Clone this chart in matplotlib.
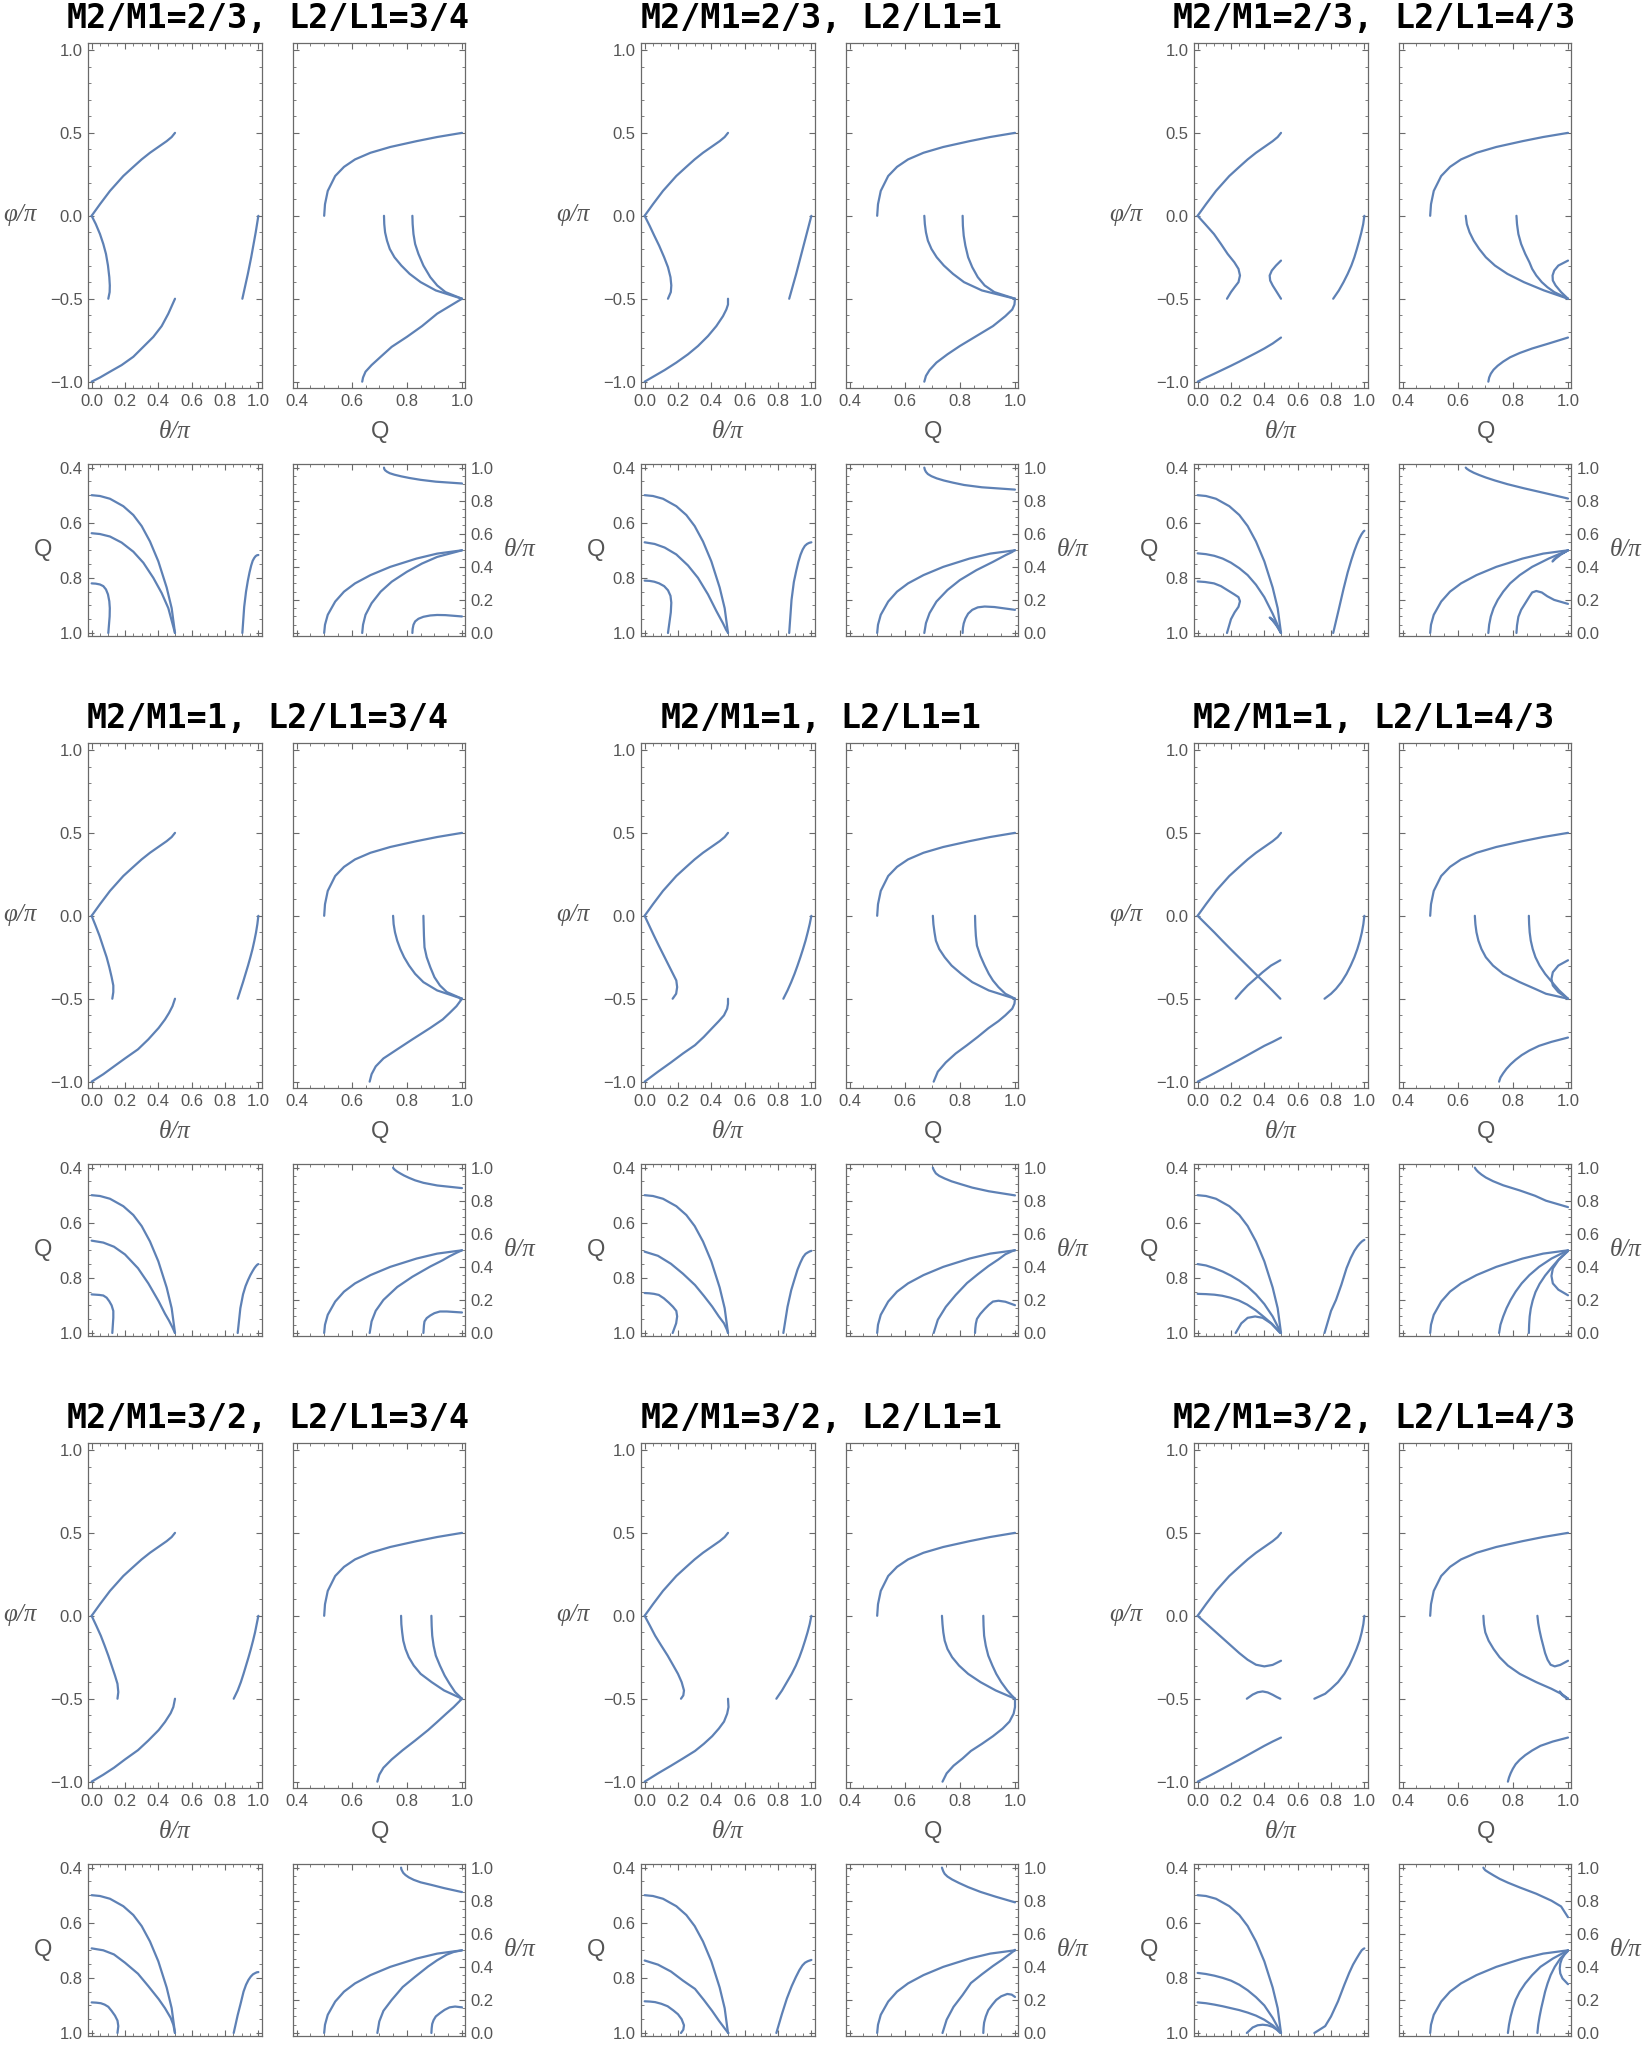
import matplotlib
matplotlib.use('Agg')
import matplotlib.pyplot as plt
from matplotlib.ticker import MultipleLocator, FuncFormatter

LINE = '#5E81B5'
FRAME = '#6a6a6a'
LABEL = '#555555'

mass_ratios = ['2/3', '1', '3/2']
length_ratios = ['3/4', '1', '4/3']

# ---- common branch (theta/pi, phi/pi, Q) ----
arcA_th = [0, 0.05, 0.11, 0.19, 0.25, 0.30, 0.35, 0.40, 0.45, 0.48, 0.5]
arcA_ph = [0, 0.07, 0.15, 0.24, 0.295, 0.34, 0.38, 0.415, 0.45, 0.475, 0.5]
arcA_q = [0.5, 0.503, 0.513, 0.54, 0.572, 0.612, 0.668, 0.74, 0.835, 0.91, 1.0]

PH11 = [0, -0.05, -0.1, -0.15, -0.2, -0.25, -0.3, -0.35, -0.4, -0.45, -0.5]
PH12 = [0, -0.05, -0.1, -0.15, -0.2, -0.25, -0.3, -0.35, -0.4, -0.44, -0.47, -0.5]
TH11 = [0, 0.05, 0.1, 0.15, 0.2, 0.25, 0.3, 0.35, 0.4, 0.45, 0.5]

# ---- M2/M1=2/3, L2/L1=3/4 ----
th_23_34 = [arcA_th,
            [0, 0.025, 0.05, 0.07, 0.086, 0.098, 0.106, 0.109, 0.108, 0.1],
            [0, 0.05, 0.11, 0.18, 0.25, 0.31, 0.37, 0.42, 0.46, 0.5],
            [1.0, 0.992, 0.984, 0.975, 0.966, 0.957, 0.947, 0.937, 0.926, 0.915, 0.904]]
ph_23_34 = [arcA_ph,
            [0, -0.05, -0.11, -0.17, -0.23, -0.30, -0.37, -0.42, -0.46, -0.5],
            [-1, -0.975, -0.94, -0.9, -0.85, -0.79, -0.73, -0.665, -0.59, -0.5],
            PH11]
q_23_34 = [arcA_q,
           [0.82, 0.821, 0.824, 0.83, 0.842, 0.86, 0.885, 0.91, 0.94, 1.0],
           [0.638, 0.641, 0.65, 0.672, 0.705, 0.745, 0.8, 0.855, 0.91, 1.0],
           [0.717, 0.718, 0.721, 0.728, 0.738, 0.755, 0.78, 0.81, 0.85, 0.905, 1.0]]

# ---- M2/M1=2/3, L2/L1=1 ----
th_23_1 = [arcA_th,
           [0, 0.03, 0.058, 0.087, 0.117, 0.14, 0.155, 0.16, 0.157, 0.14],
           [0, 0.06, 0.12, 0.19, 0.26, 0.32, 0.38, 0.43, 0.47, 0.49, 0.5, 0.5],
           [1.0, 0.987, 0.974, 0.961, 0.948, 0.935, 0.922, 0.909, 0.895, 0.881, 0.867]]
ph_23_1 = [arcA_ph,
           [0, -0.06, -0.12, -0.18, -0.25, -0.31, -0.37, -0.42, -0.46, -0.5],
           [-1, -0.965, -0.93, -0.885, -0.835, -0.785, -0.725, -0.665, -0.605, -0.565, -0.535, -0.5],
           PH11]
q_23_1 = [arcA_q,
          [0.81, 0.811, 0.814, 0.82, 0.83, 0.845, 0.865, 0.89, 0.925, 1.0],
          [0.671, 0.677, 0.69, 0.715, 0.755, 0.8, 0.86, 0.92, 0.965, 0.99, 0.998, 1.0],
          [0.671, 0.673, 0.677, 0.684, 0.697, 0.716, 0.742, 0.775, 0.815, 0.88, 1.0]]

# ---- M2/M1=2/3, L2/L1=4/3 ----
th_23_43 = [arcA_th,
            [0, 0.045, 0.098, 0.14, 0.18, 0.22, 0.245, 0.254, 0.245, 0.222, 0.2, 0.176],
            [0.5, 0.47, 0.445, 0.432, 0.435, 0.45, 0.475, 0.5],
            TH11,
            [1.0, 0.993, 0.982, 0.969, 0.955, 0.94, 0.922, 0.9, 0.875, 0.847, 0.813]]
ph_23_43 = [arcA_ph,
            [0, -0.05, -0.11, -0.17, -0.23, -0.28, -0.32, -0.36, -0.40, -0.43, -0.46, -0.5],
            [-0.27, -0.3, -0.33, -0.36, -0.39, -0.42, -0.46, -0.5],
            [-1, -0.975, -0.952, -0.928, -0.904, -0.879, -0.853, -0.827, -0.8, -0.77, -0.734],
            PH11]
q_23_43 = [arcA_q,
           [0.813, 0.815, 0.82, 0.83, 0.845, 0.86, 0.87, 0.885, 0.905, 0.925, 0.95, 1.0],
           [1.0, 0.965, 0.95, 0.944, 0.945, 0.955, 0.975, 1.0],
           [0.711, 0.714, 0.72, 0.73, 0.745, 0.765, 0.79, 0.825, 0.87, 0.93, 1.0],
           [0.629, 0.633, 0.643, 0.658, 0.678, 0.702, 0.735, 0.78, 0.84, 0.913, 1.0]]

# ---- M2/M1=1, L2/L1=3/4 ----
th_1_34 = [arcA_th,
           [0, 0.024, 0.047, 0.07, 0.09, 0.106, 0.12, 0.13, 0.13, 0.124],
           [0, 0.07, 0.134, 0.2, 0.278, 0.34, 0.402, 0.44, 0.464, 0.485, 0.5],
           [1.0, 0.994, 0.986, 0.976, 0.965, 0.952, 0.938, 0.923, 0.908, 0.892, 0.876]]
ph_1_34 = [arcA_ph,
           [0, -0.06, -0.12, -0.19, -0.25, -0.31, -0.37, -0.42, -0.46, -0.5],
           [-1, -0.955, -0.908, -0.86, -0.805, -0.745, -0.676, -0.625, -0.586, -0.545, -0.5],
           PH11]
q_1_34 = [arcA_q,
          [0.86, 0.861, 0.862, 0.864, 0.872, 0.885, 0.9, 0.92, 0.945, 1.0],
          [0.665, 0.672, 0.687, 0.715, 0.765, 0.82, 0.885, 0.93, 0.955, 0.98, 1.0],
          [0.75, 0.752, 0.757, 0.765, 0.776, 0.79, 0.808, 0.83, 0.86, 0.91, 1.0]]

# ---- M2/M1=1, L2/L1=1 ----
th_1_1 = [arcA_th,
          [0, 0.028, 0.056, 0.085, 0.115, 0.145, 0.17, 0.19, 0.195, 0.189, 0.168],
          [0, 0.08, 0.158, 0.23, 0.302, 0.355, 0.405, 0.445, 0.476, 0.495, 0.5, 0.5],
          [1.0, 0.99, 0.978, 0.965, 0.95, 0.934, 0.917, 0.899, 0.879, 0.857, 0.832]]
ph_1_1 = [arcA_ph,
          [0, -0.06, -0.12, -0.18, -0.24, -0.3, -0.35, -0.39, -0.43, -0.47, -0.5],
          [-1, -0.94, -0.884, -0.83, -0.78, -0.73, -0.677, -0.635, -0.6, -0.56, -0.53, -0.5],
          PH11]
q_1_1 = [arcA_q,
         [0.855, 0.856, 0.858, 0.862, 0.874, 0.89, 0.905, 0.92, 0.94, 0.965, 1.0],
         [0.705, 0.72, 0.749, 0.785, 0.826, 0.865, 0.904, 0.94, 0.965, 0.99, 0.998, 1.0],
         [0.702, 0.704, 0.708, 0.713, 0.725, 0.745, 0.77, 0.805, 0.845, 0.905, 1.0]]

# ---- M2/M1=1, L2/L1=4/3 ----
th_1_43 = [arcA_th,
           [0, 0.05, 0.1, 0.148, 0.197, 0.247, 0.297, 0.347, 0.398, 0.448, 0.496],
           [0.496, 0.44, 0.39, 0.345, 0.3, 0.262, 0.228],
           TH11,
           [1.0, 0.994, 0.985, 0.973, 0.958, 0.94, 0.918, 0.893, 0.862, 0.83, 0.8, 0.761]]
ph_1_43 = [arcA_ph,
           PH11,
           [-0.268, -0.3, -0.34, -0.38, -0.42, -0.46, -0.5],
           [-1, -0.975, -0.949, -0.922, -0.895, -0.868, -0.84, -0.812, -0.784, -0.76, -0.734],
           PH12]
q_1_43 = [arcA_q,
          [0.858, 0.859, 0.861, 0.865, 0.872, 0.882, 0.897, 0.917, 0.942, 0.968, 1.0],
          [1.0, 0.965, 0.945, 0.94, 0.945, 0.965, 1.0],
          [0.75, 0.755, 0.765, 0.777, 0.792, 0.81, 0.832, 0.86, 0.895, 0.94, 1.0],
          [0.662, 0.664, 0.668, 0.675, 0.686, 0.702, 0.728, 0.765, 0.825, 0.88, 0.92, 1.0]]

# ---- M2/M1=3/2, L2/L1=3/4 ----
th_32_34 = [arcA_th,
            [0, 0.028, 0.055, 0.078, 0.1, 0.12, 0.14, 0.155, 0.16, 0.155],
            [0, 0.07, 0.134, 0.2, 0.278, 0.34, 0.402, 0.44, 0.474, 0.49, 0.5],
            [1.0, 0.99, 0.98, 0.968, 0.955, 0.941, 0.926, 0.911, 0.895, 0.876, 0.852]]
ph_32_34 = [arcA_ph,
            [0, -0.06, -0.12, -0.18, -0.24, -0.3, -0.36, -0.41, -0.46, -0.5],
            [-1, -0.958, -0.916, -0.866, -0.81, -0.752, -0.689, -0.64, -0.587, -0.55, -0.5],
            PH11]
q_32_34 = [arcA_q,
           [0.889, 0.89, 0.892, 0.897, 0.905, 0.92, 0.937, 0.955, 0.975, 1.0],
           [0.693, 0.7, 0.715, 0.745, 0.785, 0.83, 0.877, 0.91, 0.945, 0.97, 1.0],
           [0.779, 0.78, 0.783, 0.787, 0.795, 0.807, 0.825, 0.85, 0.89, 0.935, 1.0]]

# ---- M2/M1=3/2, L2/L1=1 ----
th_32_1 = [arcA_th,
           [0, 0.032, 0.063, 0.1, 0.138, 0.172, 0.2, 0.222, 0.236, 0.232, 0.218],
           [0, 0.08, 0.158, 0.23, 0.302, 0.355, 0.405, 0.445, 0.476, 0.495, 0.503, 0.5],
           [1.0, 0.99, 0.977, 0.962, 0.946, 0.928, 0.907, 0.882, 0.853, 0.824, 0.79]]
ph_32_1 = [arcA_ph,
           [0, -0.06, -0.12, -0.18, -0.24, -0.3, -0.35, -0.4, -0.45, -0.48, -0.5],
           [-1, -0.95, -0.904, -0.86, -0.815, -0.772, -0.726, -0.68, -0.638, -0.59, -0.55, -0.5],
           PH11]
q_32_1 = [arcA_q,
          [0.885, 0.886, 0.888, 0.894, 0.903, 0.918, 0.932, 0.95, 0.972, 0.988, 1.0],
          [0.737, 0.752, 0.777, 0.81, 0.84, 0.88, 0.92, 0.955, 0.98, 0.995, 1.0, 1.0],
          [0.735, 0.737, 0.74, 0.745, 0.755, 0.772, 0.797, 0.83, 0.875, 0.93, 1.0]]

# ---- M2/M1=3/2, L2/L1=4/3 ----
th_32_43 = [arcA_th,
            TH11,
            [0.295, 0.33, 0.36, 0.39, 0.42, 0.45, 0.475, 0.496],
            TH11,
            [1.0, 0.994, 0.984, 0.971, 0.953, 0.932, 0.909, 0.88, 0.842, 0.8, 0.765, 0.7]]
ph_32_43 = [arcA_ph,
            [0, -0.045, -0.09, -0.135, -0.18, -0.225, -0.265, -0.295, -0.305, -0.296, -0.271],
            [-0.5, -0.475, -0.461, -0.456, -0.462, -0.476, -0.49, -0.5],
            [-1, -0.975, -0.949, -0.922, -0.895, -0.868, -0.84, -0.812, -0.784, -0.758, -0.734],
            PH12]
q_32_43 = [arcA_q,
           [0.889, 0.892, 0.897, 0.903, 0.91, 0.917, 0.926, 0.937, 0.952, 0.972, 1.0],
           [1.0, 0.98, 0.972, 0.97, 0.972, 0.978, 0.988, 1.0],
           [0.782, 0.786, 0.792, 0.8, 0.81, 0.825, 0.845, 0.87, 0.9, 0.945, 1.0],
           [0.693, 0.695, 0.7, 0.712, 0.73, 0.752, 0.782, 0.825, 0.885, 0.94, 0.975, 1.0]]

blocks = [
    [(th_23_34, ph_23_34, q_23_34), (th_23_1, ph_23_1, q_23_1), (th_23_43, ph_23_43, q_23_43)],
    [(th_1_34, ph_1_34, q_1_34), (th_1_1, ph_1_1, q_1_1), (th_1_43, ph_1_43, q_1_43)],
    [(th_32_34, ph_32_34, q_32_34), (th_32_1, ph_32_1, q_32_1), (th_32_43, ph_32_43, q_32_43)],
]

W, H = 1644, 2048
fig = plt.figure(figsize=(W / 100, H / 100), dpi=100)
fig.patch.set_facecolor('white')


def ax_at(x0, y0, w, h):
    return fig.add_axes([x0 / W, 1 - (y0 + h) / H, w / W, h / H])


def fmt(v, pos):
    if abs(v) < 1e-9:
        v = 0.0
    return ('%.1f' % v).replace('-', '\u2212')


TICKFONT = 'Liberation Sans'


def style(ax, xmaj, xmin, ymaj, ymin, xlab, ylab, yright=False):
    for s in ax.spines.values():
        s.set_color(FRAME)
        s.set_linewidth(0.9)
    ax.xaxis.set_major_locator(MultipleLocator(xmaj))
    ax.xaxis.set_minor_locator(MultipleLocator(xmin))
    ax.yaxis.set_major_locator(MultipleLocator(ymaj))
    ax.yaxis.set_minor_locator(MultipleLocator(ymin))
    ax.xaxis.set_major_formatter(FuncFormatter(fmt))
    ax.yaxis.set_major_formatter(FuncFormatter(fmt))
    ax.tick_params(which='both', direction='in', top=True, bottom=True,
                   left=True, right=True, color=FRAME, labelcolor=LABEL,
                   labelsize=12, pad=4)
    ax.tick_params(which='major', length=4.5, width=0.8)
    ax.tick_params(which='minor', length=2.4, width=0.6)
    ax.tick_params(axis='x', labelbottom=xlab, labeltop=False)
    ax.tick_params(axis='y', labelleft=(ylab and not yright),
                   labelright=(ylab and yright))
    for t in ax.get_xticklabels() + ax.get_yticklabels():
        t.set_fontfamily(TICKFONT)


def ftext(x, y, s, **kw):
    fig.text(x / W, 1 - y / H, s, **kw)


lab_kw = dict(color=LABEL, ha='center', va='center')
ital = dict(family='Liberation Serif', style='italic', size=18)
sans = dict(family='Liberation Sans', size=17)
title_kw = dict(ha='center', va='center', family='DejaVu Sans Mono',
                weight='bold', size=24, color='black')
CELL = 21.0  # character pitch of the title in px

for r in range(3):
    for c in range(3):
        th_list, ph_list, q_list = blocks[r][c]
        x0 = 88.3 + 553 * c
        x1 = 293.3 + 553 * c
        yt = 43.3 + 700 * r
        yb = 464.3 + 700 * r

        tl = ax_at(x0, yt, 173.4, 345)
        tr = ax_at(x1, yt, 172, 345)
        bl = ax_at(x0, yb, 173.4, 172)
        br = ax_at(x1, yb, 172, 172)

        for th, ph, q in zip(th_list, ph_list, q_list):
            kw = dict(color=LINE, lw=1.6, solid_capstyle='round', solid_joinstyle='round')
            tl.plot(th, ph, **kw)
            tr.plot(q, ph, **kw)
            bl.plot(th, q, **kw)
            br.plot(q, th, **kw)

        tl.set_xlim(-0.02, 1.02)
        tl.set_ylim(-1.04, 1.04)
        tr.set_xlim(0.388, 1.012)
        tr.set_ylim(-1.04, 1.04)
        bl.set_xlim(-0.02, 1.02)
        bl.set_ylim(1.012, 0.388)
        br.set_xlim(0.388, 1.012)
        br.set_ylim(-0.02, 1.02)

        style(tl, 0.2, 0.05, 0.5, 0.1, True, True)
        style(tr, 0.2, 0.05, 0.5, 0.1, True, False)
        style(bl, 0.2, 0.05, 0.2, 0.05, False, True)
        style(br, 0.2, 0.05, 0.2, 0.05, False, True, yright=True)

        # axis labels
        ftext(20 + 553 * c, 215 + 700 * r, '\u03c6/\u03c0', **lab_kw, **ital)
        ftext(175 + 553 * c, 432 + 700 * r, '\u03b8/\u03c0', **lab_kw, **ital)
        ftext(380 + 553 * c, 432 + 700 * r, 'Q', **lab_kw, **sans)
        ftext(43 + 553 * c, 550 + 700 * r, 'Q', **lab_kw, **sans)
        ftext(520 + 553 * c, 550 + 700 * r, '\u03b8/\u03c0', **lab_kw, **ital)

        # title in two parts, laid out on a wide character pitch
        left = 'M2/M1=%s,' % mass_ratios[r]
        right = 'L2/L1=%s' % length_ratios[c]
        n1, n2 = len(left), len(right)
        total = (n1 + 0.6 + n2) * CELL
        start = 268 + 553 * c - total / 2
        ty = 18.5 + 700 * r
        ftext(start + n1 * CELL / 2, ty, left, **title_kw)
        ftext(start + (n1 + 0.6) * CELL + n2 * CELL / 2, ty, right, **title_kw)

fig.savefig('out.png', dpi=100, facecolor='white')
